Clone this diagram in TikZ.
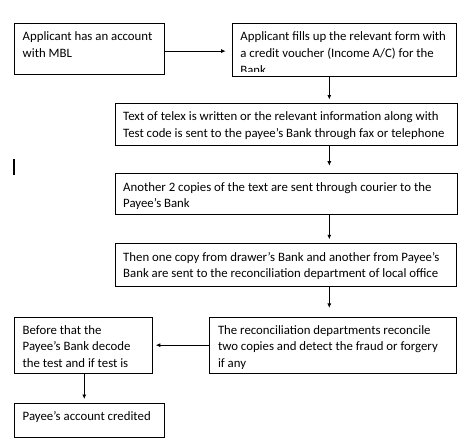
\documentclass[tikz,border=0pt]{standalone}
\usepackage{fontspec}
\setmainfont{Carlito}
\usetikzlibrary{arrows.meta}
\tikzset{
  box/.style={draw, line width=0.8pt, anchor=north west, inner sep=0pt},
  txt/.style={anchor=north west, inner sep=0pt, align=left, font=\fontsize{12.8}{16.7}\selectfont},
  arr/.style={line width=0.8pt, -{Latex[length=4.5pt,width=4pt]}}
}
\newcommand\boxtext[2]{%
  \begin{scope}
    \clip (#1.north west) rectangle ([yshift=5.8pt]#1.south east);
    \node[txt] (#1-t) at ([shift={(8.5pt,-4.5pt)}]#1.north west) {\rule{0pt}{13pt}#2};
  \end{scope}}
\begin{document}
\begin{tikzpicture}[x=1pt, y=-1pt]
      \useasboundingbox (0,0) rectangle (476,447);
      \node[box, minimum width=150pt, minimum height=51pt] (acct) at (14,23) {};
      \node[box, minimum width=224.6pt, minimum height=53pt] (form) at (231.7,23) {};
      \node[box, minimum width=342.5pt, minimum height=42.3pt] (telex) at (114.5,103) {};
      \node[box, minimum width=342.8pt, minimum height=41pt] (courier) at (114.5,173.3) {};
      \node[box, minimum width=341.8pt, minimum height=43pt] (local) at (114.5,243.3) {};
      \node[box, minimum width=247pt, minimum height=56.5pt] (recon) at (209.3,316.5) {};
      \node[box, minimum width=137.7pt, minimum height=56.5pt] (decode) at (14,316.5) {};
      \node[box, minimum width=150pt, minimum height=34.2pt] (credit) at (14,402.5) {};
      \boxtext{acct}{Applicant has an account\\with MBL}
      \boxtext{form}{Applicant fills up the relevant form with\\a credit voucher (Income A/C) for the\\Bank}
      \boxtext{telex}{Text of telex is written or the relevant information along with\\Test code is sent to the payee’s Bank through fax or telephone}
      \boxtext{courier}{Another 2 copies of the text are sent through courier to the\\Payee’s Bank}
      \boxtext{local}{Then one copy from drawer’s Bank and another from Payee’s\\Bank are sent to the reconciliation department of local office}
      \boxtext{recon}{The reconciliation departments reconcile\\two copies and detect the fraud or forgery\\if any}
      \boxtext{decode}{Before that the\\Payee’s Bank decode\\the test and if test is}
      \boxtext{credit}{Payee’s account credited}
      \coordinate (spine) at (329.3,0);
      \coordinate (acct-out) at ([yshift=-2.2pt]acct.east);
      \draw[arr, shorten >=6pt] (acct-out) -- (form.west |- acct-out);
      \draw[arr, shorten >=3.5pt] (spine |- form.south) -- (spine |- telex.north);
      \draw[arr, shorten >=7.6pt] (spine |- telex.south) -- (spine |- courier.north);
      \draw[arr, shorten >=4pt] (spine |- courier.south) -- (spine |- local.north);
      \draw[arr, shorten >=8.6pt] (spine |- local.south) -- (spine |- recon.north);
      \draw[arr, shorten >=3.3pt] (recon.west) -- (decode.east);
      \draw[arr, shorten >=3.5pt] ([xshift=1pt]decode.south) -- ([xshift=1pt]decode.south |- credit.north);
      \draw[line width=2pt] (14.2,159.3) -- (14.2,175);
\end{tikzpicture}
\end{document}
